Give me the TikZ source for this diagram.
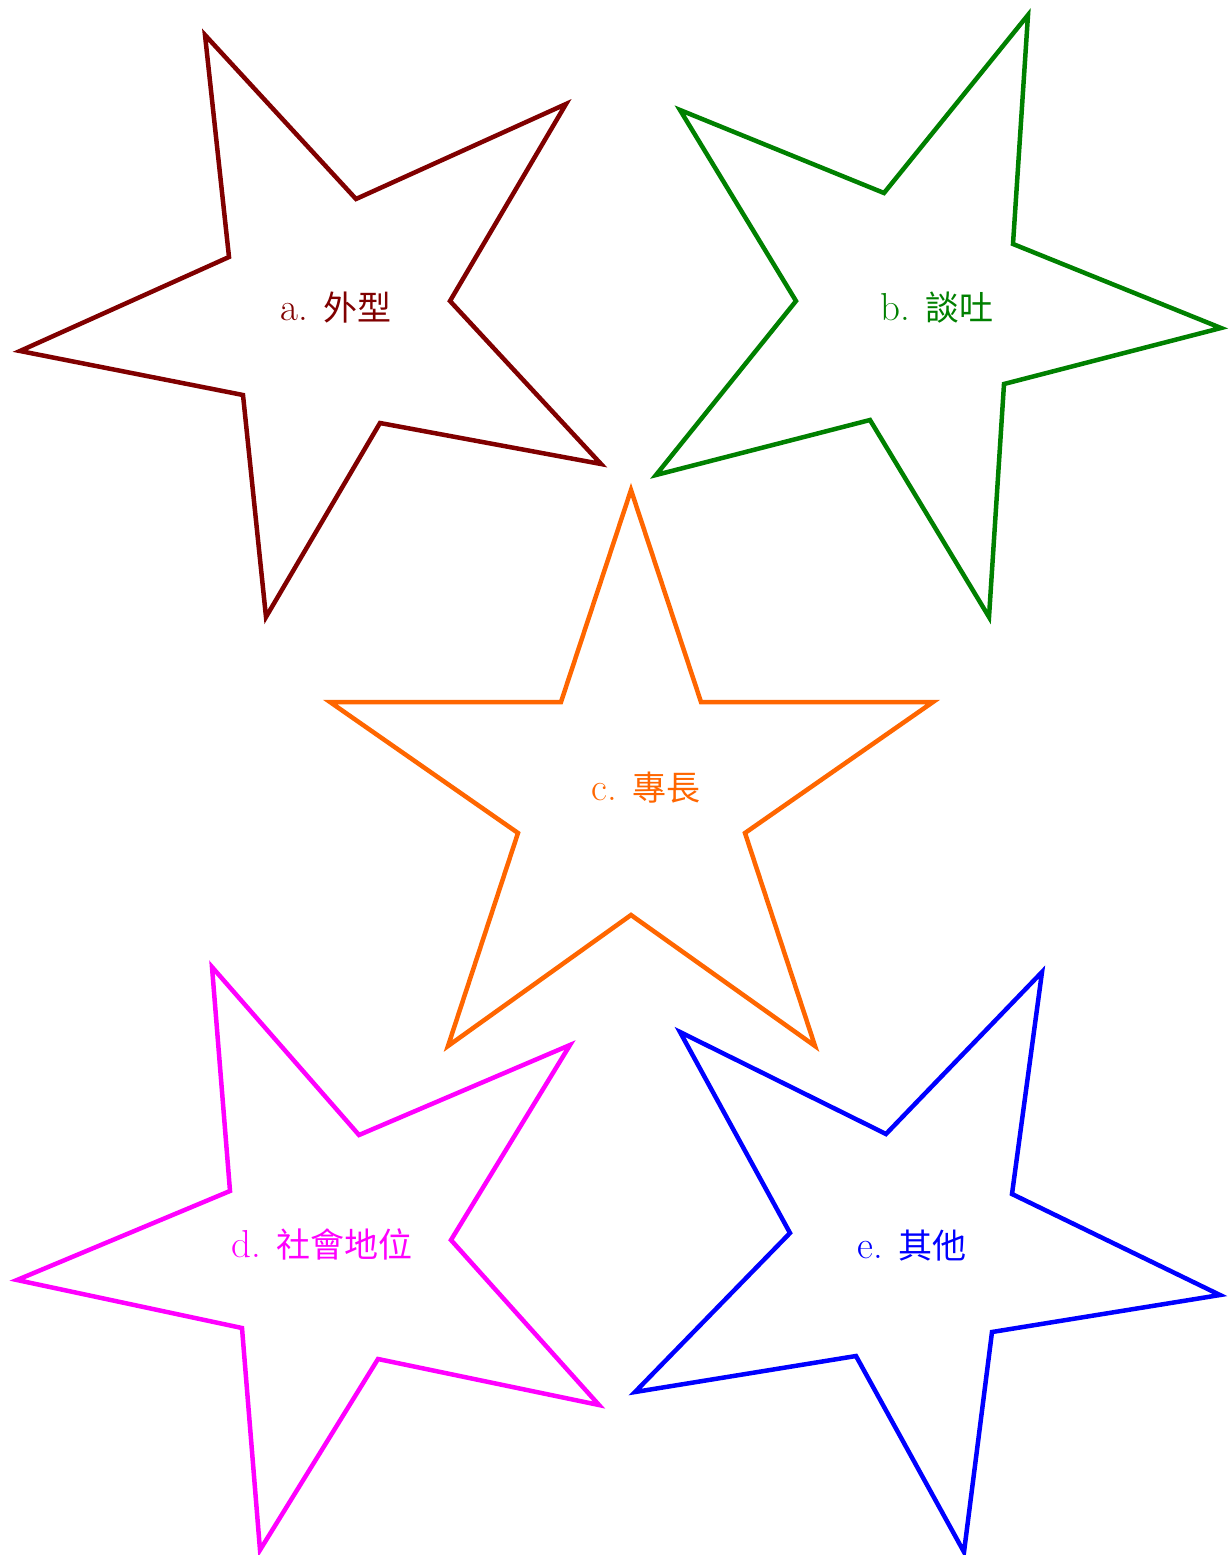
\documentclass[tikz,border=0pt]{standalone}
\usepackage{fontspec}
\newfontfamily\cjk{Noto Sans CJK TC}
\definecolor{cA}{HTML}{800000}
\definecolor{cB}{HTML}{008000}
\definecolor{cC}{HTML}{FF6600}
\definecolor{cD}{HTML}{FF00FF}
\definecolor{cE}{HTML}{0000FF}
\newcommand{\cjkt}[1]{{\fontsize{34}{38}\selectfont\cjk #1}}
\tikzset{
  starline/.style={line width=4.5pt, line join=miter},
  lbl/.style={font=\fontsize{39}{44}\selectfont, inner sep=0pt, anchor=base west}
}
\begin{document}
\begin{tikzpicture}[x=1pt,y=-1pt]
\useasboundingbox (0,0) rectangle (1231,1555);
% star a
\draw[starline, cA] (205,35) -- (356,199) -- (566,104) -- (450,301) -- (601,464) -- (380,423) -- (266,617) -- (243,395) -- (20,351) -- (229,257) -- cycle;
\node[lbl, text=cA] (la) at (280,320) {a. \cjkt{外型}};
% star b
\draw[starline, cB] (1028,15) -- (1013,244) -- (1221,328) -- (1004,384) -- (989,617) -- (870,420) -- (656,475) -- (796,301) -- (680,110) -- (884,193) -- cycle;
\node[lbl, text=cB] (lb) at (880,320) {b. \cjkt{談吐}};
% star c
\draw[starline, cC] (631,490) -- (701,702) -- (933,702) -- (745,833) -- (815,1046) -- (631,915) -- (448,1046) -- (518,833) -- (330,702) -- (561,702) -- cycle;
\node[lbl, text=cC] (lc) at (591,800) {c. \cjkt{專長}};
% star d
\draw[starline, cD] (212,967) -- (359,1135) -- (570,1045) -- (451,1240) -- (599,1405) -- (378,1359) -- (260,1550) -- (242,1328) -- (17,1280) -- (230,1191) -- cycle;
\node[lbl, text=cD] (ld) at (231,1257) {d. \cjkt{社會地位}};
% star e
\draw[starline, cE] (1042,972) -- (1012,1194) -- (1220,1295) -- (992,1332) -- (964,1552) -- (856,1356) -- (635,1392) -- (790,1233) -- (680,1032) -- (886,1134) -- cycle;
\node[lbl, text=cE] (le) at (857,1258) {e. \cjkt{其他}};
\end{tikzpicture}
\end{document}
